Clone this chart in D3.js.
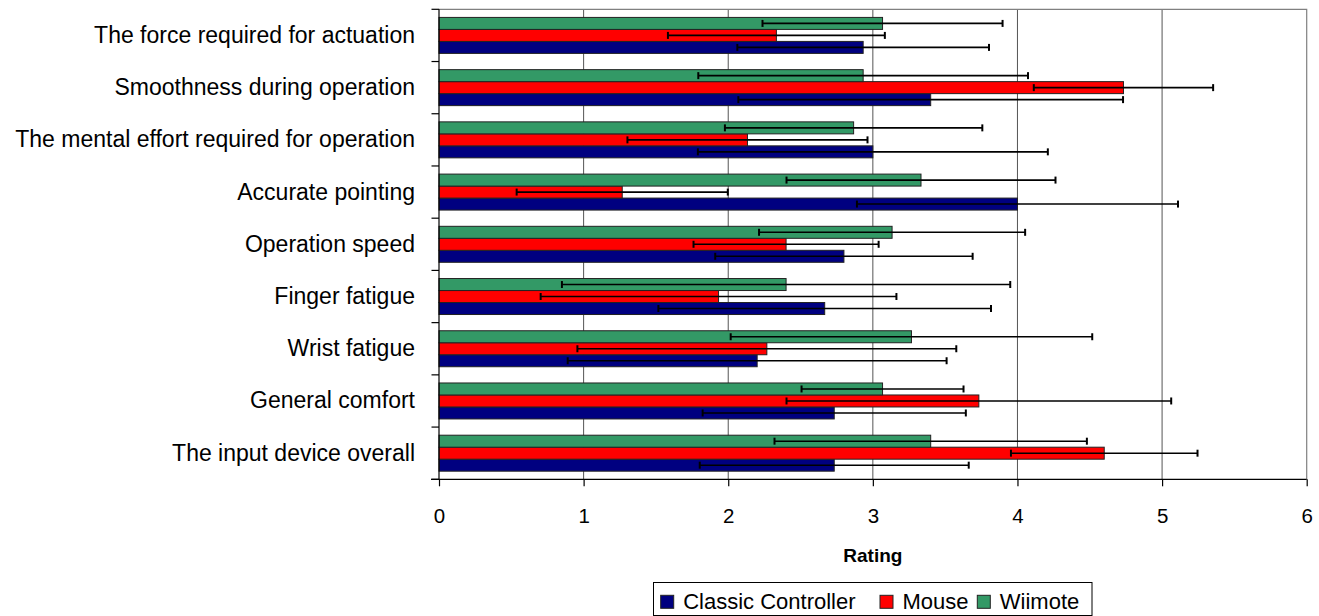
<!DOCTYPE html>
<html>
<head>
<meta charset="utf-8">
<script src="https://cdn.jsdelivr.net/npm/d3@7/dist/d3.min.js"></script>
<style>
  html, body { margin: 0; padding: 0; background: #fff; }
  svg { display: block; }
  text { font-family: "Liberation Sans", Arial, sans-serif; fill: #000; }
</style>
</head>
<body>
<svg id="chart" width="1319" height="616"></svg>
<script>
// ---- data ----
const categories = [
  "The force required for actuation",
  "Smoothness during operation",
  "The mental effort required for operation",
  "Accurate pointing",
  "Operation speed",
  "Finger fatigue",
  "Wrist fatigue",
  "General comfort",
  "The input device overall"
];
const seriesNames = ["Classic Controller", "Mouse", "Wiimote"];
const classicValues = [2.933, 3.400, 3.000, 4.000, 2.800, 2.667, 2.200, 2.733, 2.733];
const classicErrors = [0.87, 1.33, 1.21, 1.11, 0.89, 1.15, 1.31, 0.91, 0.93];
const mouseValues   = [2.333, 4.733, 2.133, 1.267, 2.400, 1.933, 2.267, 3.733, 4.600];
const mouseErrors   = [0.75, 0.62, 0.83, 0.73, 0.64, 1.23, 1.31, 1.33, 0.645];
const wiimoteValues = [3.067, 2.933, 2.867, 3.333, 3.133, 2.400, 3.267, 3.067, 3.400];
const wiimoteErrors = [0.83, 1.14, 0.89, 0.93, 0.92, 1.55, 1.25, 0.56, 1.08];
const xTickValues = [0, 1, 2, 3, 4, 5, 6];
const xTickLabels = ["0", "1", "2", "3", "4", "5", "6"];
const axisTitle = "Rating";

(function () {
const colors = { "Classic Controller": "#000080", "Mouse": "#FF0000", "Wiimote": "#339966" };
const valuesBySeries = { "Classic Controller": classicValues, "Mouse": mouseValues, "Wiimote": wiimoteValues };
const errorsBySeries = { "Classic Controller": classicErrors, "Mouse": mouseErrors, "Wiimote": wiimoteErrors };

const rows = [];
categories.forEach((c, i) => {
  seriesNames.forEach(s => rows.push({ cat: c, series: s, value: valuesBySeries[s][i], err: errorsBySeries[s][i] }));
});

// ---- layout ----
const pLeft = 439, pRight = 1306.7, pTop = 9.3, pBottom = 479.3;
const svg = d3.select("#chart");

const x = d3.scaleLinear().domain([0, 6]).range([pLeft, pRight]);
const y = d3.scaleBand().domain(categories).range([pTop, pBottom]).paddingInner(0.311).paddingOuter(0.1555);
const yInner = d3.scaleBand().domain(["Wiimote", "Mouse", "Classic Controller"]).range([0, y.bandwidth()]);

// gridlines
svg.append("g").selectAll("line").data(xTickValues.slice(1, 6)).join("line")
  .attr("x1", d => x(d)).attr("x2", d => x(d))
  .attr("y1", pTop).attr("y2", pBottom)
  .attr("stroke", "#555").attr("stroke-width", 1);

// plot border (top, right)
svg.append("path")
  .attr("d", `M${pLeft},${pTop}H${pRight}V${pBottom}`)
  .attr("fill", "none").attr("stroke", "#808080").attr("stroke-width", 1.2);

// bars
svg.append("g").selectAll("rect").data(rows).join("rect")
  .attr("x", x(0))
  .attr("y", d => y(d.cat) + yInner(d.series))
  .attr("width", d => x(d.value) - x(0))
  .attr("height", yInner.bandwidth())
  .attr("fill", d => colors[d.series])
  .attr("stroke", "#222").attr("stroke-width", 1);

// error bars
const eg = svg.append("g").attr("stroke", "#000").attr("stroke-width", 1.6);
rows.forEach(d => {
  const cy = y(d.cat) + yInner(d.series) + yInner.bandwidth() / 2;
  const x1 = x(d.value - d.err), x2 = x(d.value + d.err);
  eg.append("line").attr("x1", x1).attr("x2", x2).attr("y1", cy).attr("y2", cy);
  eg.append("line").attr("x1", x1).attr("x2", x1).attr("y1", cy - 3.5).attr("y2", cy + 3.5).attr("stroke-width", 2);
  eg.append("line").attr("x1", x2).attr("x2", x2).attr("y1", cy - 3.5).attr("y2", cy + 3.5).attr("stroke-width", 2);
});

// bottom axis
const xAxis = d3.axisBottom(x).tickValues(xTickValues).tickFormat((d, i) => xTickLabels[i])
  .tickSize(7).tickSizeOuter(0).tickPadding(22);
const gx = svg.append("g").attr("transform", `translate(0,${pBottom})`).call(xAxis);
gx.select(".domain").attr("stroke", "#000").attr("stroke-width", 1.2).attr("d", `M${pLeft - 8},0H${pRight}`);
gx.selectAll(".tick line").attr("stroke", "#000").attr("stroke-width", 1.2);
gx.selectAll(".tick text").attr("font-size", 20.5).attr("font-family", '"Liberation Sans", Arial, sans-serif');

// left axis
const gap = (y.step() - y.bandwidth()) / 2;
const boundaries = categories.map(c => y(c) - gap).concat([y(categories[categories.length - 1]) + y.bandwidth() + gap]);
const gy = svg.append("g");
gy.append("line").attr("x1", pLeft).attr("x2", pLeft).attr("y1", pTop).attr("y2", pBottom)
  .attr("stroke", "#000").attr("stroke-width", 1.2);
gy.selectAll("line.tk").data(boundaries).join("line").attr("class", "tk")
  .attr("x1", pLeft - 7.5).attr("x2", pLeft).attr("y1", d => d).attr("y2", d => d)
  .attr("stroke", "#000").attr("stroke-width", 1.2);
gy.selectAll("text").data(categories).join("text")
  .attr("x", 415).attr("y", d => y(d) + y.bandwidth() / 2 + 7.5)
  .attr("text-anchor", "end").attr("font-size", 23).text(d => d);

// axis title
svg.append("text").attr("x", (pLeft + pRight) / 2).attr("y", 561.5)
  .attr("text-anchor", "middle").attr("font-size", 19).attr("font-weight", "bold").text(axisTitle);

// legend
const lg = svg.append("g");
lg.append("rect").attr("x", 653.5).attr("y", 582.5).attr("width", 438.5).attr("height", 33)
  .attr("fill", "#fff").attr("stroke", "#000").attr("stroke-width", 1);
const legendX = [660.7, 880, 977.3];
seriesNames.forEach((s, i) => {
  lg.append("rect").attr("x", legendX[i]).attr("y", 595.3).attr("width", 13).attr("height", 13)
    .attr("fill", colors[s]).attr("stroke", "#222").attr("stroke-width", 1);
  lg.append("text").attr("x", legendX[i] + 22.5).attr("y", 608.5).attr("font-size", 22).text(s);
});
})();
</script>
</body>
</html>
